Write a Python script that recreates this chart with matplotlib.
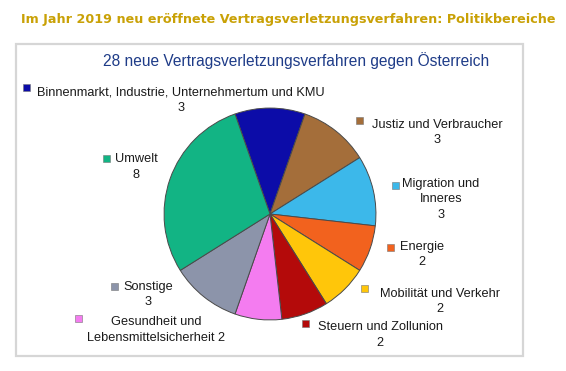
import matplotlib
matplotlib.use("Agg")
import matplotlib.pyplot as plt
from matplotlib.patches import Rectangle

categories = ["Binnenmarkt, Industrie, Unternehmertum und KMU", "Justiz und Verbraucher",
              "Migration und Inneres", "Energie", "Mobilität und Verkehr",
              "Steuern und Zollunion", "Gesundheit und Lebensmittelsicherheit",
              "Sonstige", "Umwelt"]
values = [3, 3, 3, 2, 2, 2, 2, 3, 8]
colors = ["#0c0ca8", "#a46e3a", "#3cb8ea", "#f2621e", "#ffc60a",
          "#b40a0a", "#f47cf0", "#8c94aa", "#12b484"]
main_title = "Im Jahr 2019 neu eröffnete Vertragsverletzungsverfahren: Politikbereiche"
chart_title = "28 neue Vertragsverletzungsverfahren gegen Österreich"

# label layout: display text, text center (px), marker (px)
label_text = [
    categories[0] + "\n" + str(values[0]),
    categories[1] + "\n" + str(values[1]),
    "Migration und\nInneres\n" + str(values[2]),
    categories[3] + "\n" + str(values[3]),
    categories[4] + "\n" + str(values[4]),
    categories[5] + "\n" + str(values[5]),
    "Gesundheit und\nLebensmittelsicherheit " + str(values[6]),
    categories[7] + "\n" + str(values[7]),
    categories[8] + "\n" + str(values[8]),
]
label_pos = [(181, 100.5), (437, 132.5), (441, 199.5), (422, 254.5), (440, 301.5),
             (380, 335), (156, 330), (148, 294.5), (136, 167)]
marker_pos = [(27, 87), (359, 120), (395, 185), (390, 247), (364, 288),
              (305, 323), (78, 318), (114, 286), (106, 159)]

W, H = 566, 371
fig = plt.figure(figsize=(W / 100, H / 100), dpi=100)
fig.patch.set_facecolor("white")

def fx(x):
    return x / W

def fy(y):
    return 1 - y / H

# frame box
fig.add_artist(Rectangle((fx(16), fy(356)), fx(523) - fx(16), fy(44) - fy(356),
                         transform=fig.transFigure, facecolor="none",
                         edgecolor="#d6d6d6", linewidth=1.6, zorder=-1))

fig.text(fx(288), fy(20), main_title, ha="center", va="center",
         fontsize=9.2, fontweight="bold", color="#c9a106", family="DejaVu Sans")
fig.text(fx(296), fy(61), chart_title, ha="center", va="center",
         fontsize=11.2, color="#1f3c88", family="Liberation Sans")

cx, cy, r = 270, 214, 107
ax = fig.add_axes([fx(cx - r), fy(cy + r), (2 * r) / W, (2 * r) / H])
start = 90 + 360 * values[0] / sum(values) / 2
ax.pie(values, colors=colors, startangle=start, counterclock=False,
       wedgeprops=dict(edgecolor="#4a4a4a", linewidth=0.7))
ax.set_xlim(-1.01, 1.01)
ax.set_ylim(-1.01, 1.01)
ax.set_aspect("equal")
ax.axis("off")

for txt, (tx, ty), (mx, my), c in zip(label_text, label_pos, marker_pos, colors):
    fig.text(fx(tx), fy(ty), txt, ha="center", va="center", fontsize=9.2,
             color="#1a1a1a", family="Liberation Sans", linespacing=1.42)
    fig.add_artist(Rectangle((fx(mx - 3.5), fy(my + 3.5)), fx(7), fy(0) - fy(7),
                             transform=fig.transFigure, facecolor=c,
                             edgecolor="#777777", linewidth=0.4))

fig.savefig("out.png", dpi=100, facecolor="white")
